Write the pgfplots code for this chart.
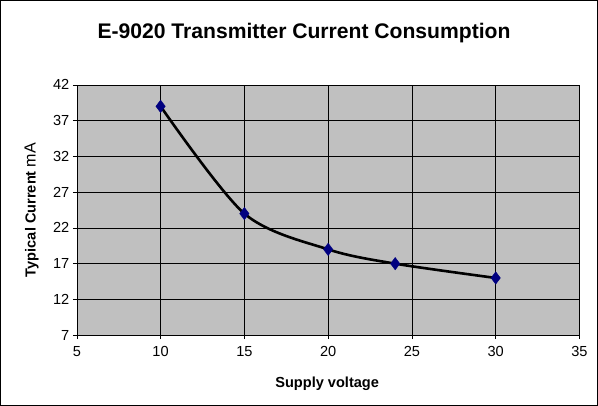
\documentclass[border=0pt]{standalone}
\usepackage{pgfplots}
\pgfplotsset{compat=1.18}
\usepackage{fontspec}
\setmainfont{Liberation Sans}
\definecolor{plotgray}{HTML}{C0C0C0}
\definecolor{navyblue}{HTML}{000080}
\begin{document}
\begin{tikzpicture}
\begin{axis}[
  at={(0,0)}, anchor=south west,
  scale only axis, width=500pt, height=249pt,
  xmin=5, xmax=35, ymin=7, ymax=42,
  xtick={5,10,...,35}, ytick={7,12,...,42},
  axis background/.style={fill=plotgray},
  grid=major, major grid style={black, line width=0.6pt},
  axis line style={black, line width=0.6pt},
  tick style={black, line width=0.6pt},
  tick align=outside, major tick length=4pt,
  xtick pos=bottom, ytick pos=left,
  ticklabel style={font=\fontsize{14.5}{16}\selectfont},
  xticklabel style={yshift=-4pt},
  /pgf/number format/assume math mode=true,
  xlabel={\bfseries Supply voltage},
  xlabel style={font=\fontsize{14.5}{16}\selectfont, at={(axis description cs:0.498,0)}, anchor=center, yshift=-48pt},
  clip=false,
]
\addplot[black, line width=2.6pt, smooth, tension=0.5, mark=diamond*, mark size=6.2pt,
  mark options={fill=navyblue, draw=navyblue, line width=0.4pt}]
  coordinates {(10,39) (15,24) (20,19) (24,17) (30,15)};
\end{axis}
\node[font=\fontsize{14.5}{16}\selectfont, rotate=90, anchor=center] at (-45pt,124.5pt) {\textbf{Typical Current} {\fontsize{16}{18}\selectfont mA}};
\node[font=\fontsize{21}{24}\selectfont\bfseries, anchor=center] at (226pt,301pt) {E-9020 Transmitter Current Consumption};
\draw[black, line width=0.8pt] (-76pt,-70pt) rectangle (518pt,333pt);
\end{tikzpicture}
\end{document}
